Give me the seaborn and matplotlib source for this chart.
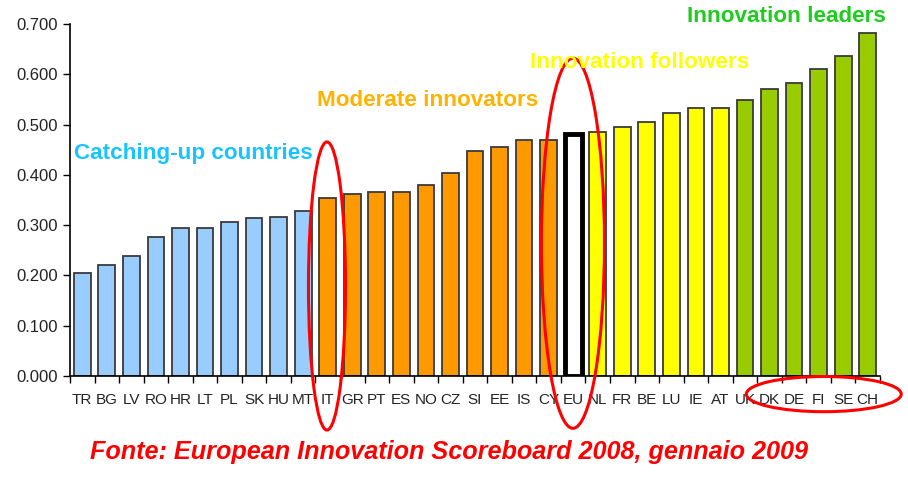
import matplotlib
matplotlib.use("Agg")
import matplotlib.pyplot as plt
import seaborn as sns
from matplotlib.patches import Ellipse
from matplotlib.ticker import FormatStrFormatter, FixedLocator

countries = ["TR", "BG", "LV", "RO", "HR", "LT", "PL", "SK", "HU", "MT",
             "IT", "GR", "PT", "ES", "NO", "CZ", "SI", "EE", "IS", "CY",
             "EU",
             "NL", "FR", "BE", "LU", "IE", "AT",
             "UK", "DK", "DE", "FI", "SE", "CH"]
values = [0.205, 0.221, 0.239, 0.276, 0.294, 0.294, 0.307, 0.314, 0.317, 0.328,
          0.353, 0.361, 0.366, 0.366, 0.379, 0.403, 0.447, 0.455, 0.470, 0.470,
          0.481,
          0.486, 0.496, 0.506, 0.524, 0.532, 0.532,
          0.548, 0.571, 0.582, 0.610, 0.636, 0.683]
groups = (["Catching-up countries"] * 10 + ["Moderate innovators"] * 10 + ["EU"]
          + ["Innovation followers"] * 6 + ["Innovation leaders"] * 6)
group_colors = {"Catching-up countries": "#99CCFF", "Moderate innovators": "#FF9900",
                "EU": "#FFFFFF", "Innovation followers": "#FFFF00",
                "Innovation leaders": "#99CC00"}
yticks = [0.0, 0.1, 0.2, 0.3, 0.4, 0.5, 0.6, 0.7]

sns.set_style("ticks")
plt.rcParams["font.family"] = ["Liberation Sans", "DejaVu Sans"]

W, H = 908, 479
fig = plt.figure(figsize=(W / 100, H / 100), dpi=100)
ax = fig.add_axes([70 / W, 1 - 376 / H, (880 - 70) / W, (376 - 24) / H])

palette = [group_colors[g] for g in groups]
sns.barplot(x=countries, y=values, hue=countries, palette=palette, legend=False,
            width=0.68, edgecolor="#3a3a3a", linewidth=1.3, saturation=1, ax=ax)

eu_idx = countries.index("EU")
p = ax.patches[eu_idx]
p.set_edgecolor("black")
p.set_linewidth(3.5)
p.set_facecolor("white")

n = len(countries)
ax.set_xlim(-0.5, n - 0.5)
ax.set_ylim(0, 0.7)
ax.set_yticks(yticks)
ax.yaxis.set_major_formatter(FormatStrFormatter("%.3f"))
ax.xaxis.set_minor_locator(FixedLocator([i - 0.5 for i in range(n + 1)]))
ax.tick_params(axis="x", which="major", length=0, pad=12, labelsize=11, labelcolor="#222222")
ax.tick_params(axis="x", which="minor", length=5, width=1, color="black")
ax.tick_params(axis="y", length=5, width=1, color="black", labelsize=12, labelcolor="#222222")
ax.set_xlabel("")
ax.set_ylabel("")
for s in ["top", "right"]:
    ax.spines[s].set_visible(False)
for s in ["left", "bottom"]:
    ax.spines[s].set_color("black")
    ax.spines[s].set_linewidth(1.2)

def fx(px):
    return px / W

def fy(py):
    return 1 - py / H

fig.text(fx(74), fy(154), "Catching-up countries", color="#19C3FF", fontsize=16.2,
         fontweight="bold", ha="left", va="center")
fig.text(fx(317), fy(100), "Moderate innovators", color="#FFB300", fontsize=16.2,
         fontweight="bold", ha="left", va="center")
fig.text(fx(530), fy(62), "Innovation followers", color="#FFFF00", fontsize=16.2,
         fontweight="bold", ha="left", va="center")
fig.text(fx(687), fy(17), "Innovation leaders", color="#1ECC1E", fontsize=16.2,
         fontweight="bold", ha="left", va="center")
fig.text(fx(90), fy(452), "Fonte: European Innovation Scoreboard 2008, gennaio 2009",
         color="#FF0000", fontsize=18.2, fontweight="bold", fontstyle="italic",
         ha="left", va="center")

# red highlight ellipses (in data coordinates)
for cx, cy, w, h in [(9.97, 0.179, 1.51, 0.573), (19.99, 0.264, 2.57, 0.736),
                     (30.21, -0.036, 6.31, 0.070)]:
    e = Ellipse((cx, cy), w, h, fill=False, edgecolor="#FF0000", linewidth=2.2,
                clip_on=False, zorder=5)
    ax.add_patch(e)

fig.savefig("out.png", dpi=100)
